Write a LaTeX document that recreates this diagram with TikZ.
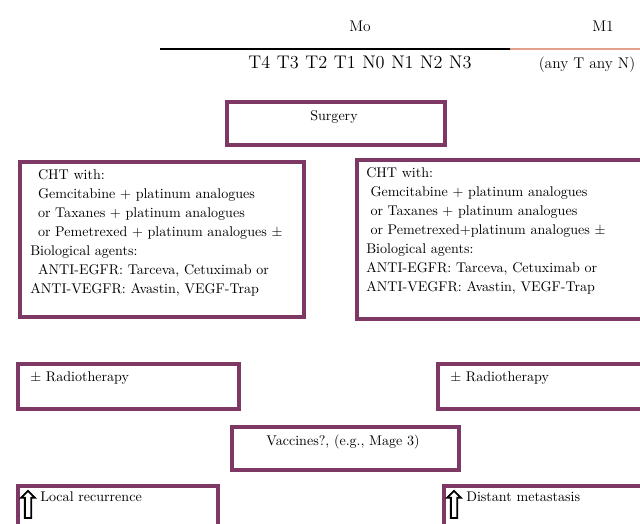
\documentclass[tikz,border=0pt]{standalone}
\usepackage{amsmath}
\usetikzlibrary{shapes.arrows}
\definecolor{plum}{RGB}{126,56,100}
\definecolor{salmon}{RGB}{226,160,140}

\begin{document}
\begin{tikzpicture}[x=0.025cm, y=-0.025cm,
box/.style = {draw=plum, line width=2.7pt, fill=white,
             inner sep=0pt, anchor=north west},
txt/.style = {inner sep=0pt, align=left, anchor=north west,
             font=\fontsize{10}{13.6}\selectfont},
hdr/.style = {inner sep=0pt, anchor=base, font=\fontsize{11}{13}\selectfont},
uparrow/.style = {single arrow, shape border rotate=90, draw=black,
             fill=white, line width=1.3pt, inner sep=1.6pt,
             minimum height=27*0.025cm, single arrow head extend=2.6pt}
                ]
    \def\u{0.025cm}
    \clip (0,0) rectangle (640,524);

    % stage header
    \node[hdr] at (360,32) (m0) {Mo};
    \node[hdr] at (603,32) (m1) {M1};
    \coordinate (rs) at (160,49);
    \coordinate (rm) at (510,49);
    \coordinate (re) at (640,49);
    \draw [black,line width=1pt] (rs) -- (rm);
    \draw [salmon,line width=1pt] (rm) -- (re);
    \node[hdr, font=\fontsize{13}{15}\selectfont] at (360,69) (tn) {\spaceskip=0.36em\relax T4 T3 T2 T1 N0 N1 N2 N3};
    \node[hdr] at (587,69) (any) {(any T any N)};

    % surgery
    \node[box, minimum width=218*\u, minimum height=43*\u] at (225,100) (surg) {};
    \node[hdr, font=\fontsize{10}{12}\selectfont] at (334,121) (surgt) {Surgery};

    % chemotherapy
    \foreach \x/\y/\w/\h/\n in {18/160/284/155/chtL, 355/158/300/159/chtR}
        \node[box, minimum width=\w*\u, minimum height=\h*\u] at (\x,\y) (\n) {};
    \node[txt] at (30,169) (chtLt) {\hspace*{0.55em}CHT with:\\
        \hspace*{0.55em}Gemcitabine + platinum analogues\\
        \hspace*{0.55em}or Taxanes + platinum analogues\\
        \hspace*{0.55em}or Pemetrexed + platinum analogues $\pm$\\
        Biological agents:\\
        \hspace*{0.55em}ANTI-EGFR: Tarceva, Cetuximab or\\
        ANTI-VEGFR: Avastin, VEGF-Trap};
    \node[txt] at (366,167) (chtRt) {CHT with:\\
        \hspace*{0.3em}Gemcitabine + platinum analogues\\
        \hspace*{0.3em}or Taxanes + platinum analogues\\
        \hspace*{0.3em}or Pemetrexed+platinum analogues $\pm$\\
        Biological agents:\\
        ANTI-EGFR: Tarceva, Cetuximab or\\
        ANTI-VEGFR: Avastin, VEGF-Trap};

    % radiotherapy
    \foreach \x/\w/\n in {16/221/radL, 436/220/radR}{
        \node[box, minimum width=\w*\u, minimum height=45*\u] at (\x,362) (\n) {};
        \node[txt, anchor=base west] at (\x+14,382) (\n t) {$\pm$ Radiotherapy};
    }

    % vaccines
    \node[box, minimum width=227*\u, minimum height=43*\u] at (230,425) (vac) {};
    \node[hdr, font=\fontsize{10}{12}\selectfont] at (343,446) (vact) {Vaccines?, (e.g., Mage 3)};

    % outcome
    \foreach \x/\w/\n/\t in {16/200/loc/Local recurrence, 442/210/dist/Distant metastasis}{
        \node[box, minimum width=\w*\u, minimum height=60*\u] at (\x,484) (\n) {};
        \node[uparrow] at (\x+12,506) (\n a) {};
        \node[txt, anchor=base west] at (\x+24,502) (\n t) {\t};
    }
\end{tikzpicture}
\end{document}
